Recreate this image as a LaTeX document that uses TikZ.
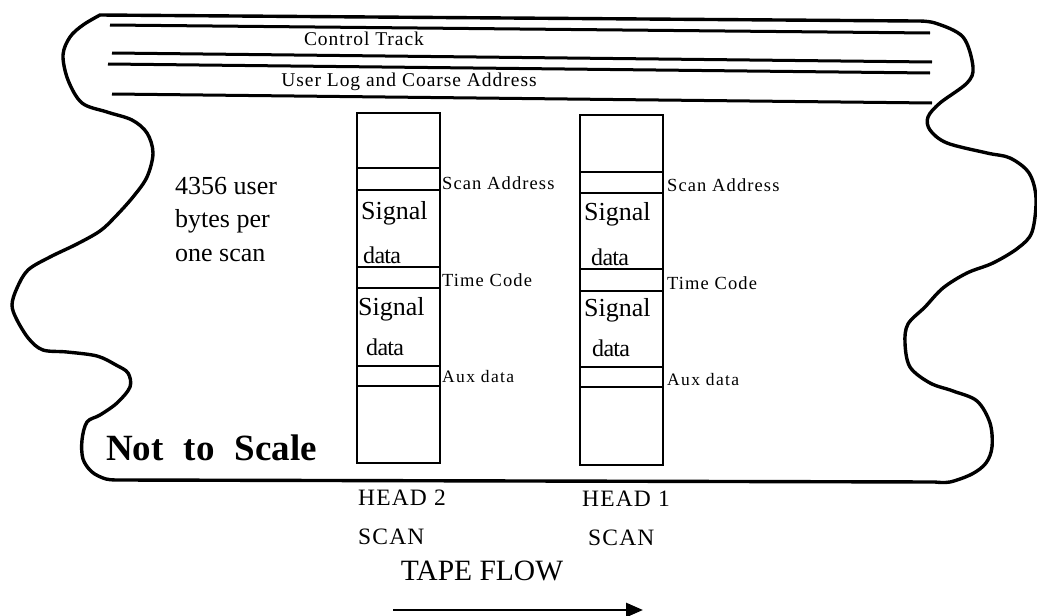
\documentclass[tikz,border=0pt]{standalone}
\usepackage{fontspec}
\setmainfont{Liberation Serif}
\usetikzlibrary{arrows.meta}
\begin{document}
\begin{tikzpicture}[x=1pt,y=-1pt,
  outline/.style={line width=3.4pt,line join=round,line cap=round},
  trackline/.style={line width=3pt},
  boxline/.style={line width=2.8pt},
  divline/.style={line width=2.6pt},
  tracktext/.style={inner sep=0pt,font=\fontsize{19.5}{22}\selectfont\addfontfeatures{LetterSpace=5}},
  cellnote/.style={anchor=west,inner sep=0pt,font=\fontsize{18.5}{22}\selectfont\addfontfeatures{LetterSpace=6}},
  auxnote/.style={anchor=west,inner sep=0pt,font=\fontsize{17.5}{22}\selectfont\addfontfeatures{LetterSpace=8}},
  sigtext/.style={anchor=west,inner sep=0pt,font=\fontsize{26}{30}\selectfont},
  datatext/.style={anchor=west,inner sep=0pt,font=\fontsize{24}{26}\selectfont\addfontfeatures{LetterSpace=-3}},
  headtext/.style={anchor=west,inner sep=0pt,font=\fontsize{23.5}{26}\selectfont\addfontfeatures{LetterSpace=5}},
]
\useasboundingbox (0,0) rectangle (1037,616);

% tape outline
\draw[outline] (100,15) -- (915,21)
  -- plot[smooth,tension=0.55] coordinates {(915,21) (935,23) (963,37) (973,67) (967,83) (940,103) (928,117) (930,130) (947,143) (987,153) (1010,158) (1029,173) (1036,198) (1032,232) (1018,248) (993,263) (967,273) (943,288) (925,307) (908,324) (905,343) (910,367) (930,383) (953,391) (977,401) (990,423) (992,447) (986,463) (972,474) (950,482) (935,482)}
  -- (120,480)
  -- plot[smooth,tension=0.55] coordinates {(120,480) (106,479) (92,472) (83,459) (82,440) (87,422) (100,415) (117,403) (130,387) (128,373) (116,365) (97,356) (67,352) (43,350) (29,339) (17,320) (12,305) (17,288) (28,270) (50,257) (77,244) (100,231) (115,217) (133,197) (147,177) (153,153) (147,133) (132,120) (107,112) (82,103) (68,80) (63,55) (70,37) (83,25) (100,15)}
  -- cycle;

% track lines
\draw[trackline] (110,25) coordinate (l1a) -- (930,33) coordinate (l1b);
\draw[trackline] (112,53) coordinate (l2a) -- (932,62) coordinate (l2b);
\draw[trackline] (108,64) coordinate (l3a) -- (930,73) coordinate (l3b);
\draw[trackline] (112,94) coordinate (l4a) -- (932,103) coordinate (l4b);
\node[tracktext] (ctrack) at (364,39) {Control Track};
\node[tracktext] (ulog) at (409,82) {User Log and Coarse Address};

% left scan (head 2)
\draw[boxline] (357,113) rectangle (440,463);
\foreach \yy in {168,190,267,288,366,386} \draw[divline] (357,\yy) -- (440,\yy);
% right scan (head 1)
\draw[boxline] (580,115) rectangle (663,465);
\foreach \yy in {172,193,269,291,367,387} \draw[divline] (580,\yy) -- (663,\yy);

% texts in boxes
\node[sigtext] (s2a) at (361,213) {Signal};
\node[datatext] (d2a) at (363,255) {data};
\node[sigtext] (s2b) at (358,309) {Signal};
\node[datatext] (d2b) at (366,347) {data};
\node[sigtext] (s1a) at (584,214) {Signal};
\node[datatext] (d1a) at (591,257) {data};
\node[sigtext] (s1b) at (584,310) {Signal};
\node[datatext] (d1b) at (592,348) {data};

% cell labels
\node[cellnote] (sa2) at (442,183) {Scan Address};
\node[cellnote] (tc2) at (442,280) {Time Code};
\node[auxnote] (ax2) at (442,377) {Aux data};
\node[cellnote] (sa1) at (667,185) {Scan Address};
\node[cellnote] (tc1) at (667,283) {Time Code};
\node[auxnote] (ax1) at (667,380) {Aux data};

% left note
\node[anchor=north west,inner sep=0pt,align=left,font=\fontsize{26}{33.5}\selectfont] (note) at (175,177) {4356 user\\bytes per\\one scan};

\node[anchor=west,inner sep=0pt,font=\fontsize{37}{40}\selectfont\bfseries] (nts) at (106,448) {Not\hspace{20pt}to\hspace{20pt}Scale};

% head labels
\node[headtext] (h2) at (358,498) {HEAD 2};
\node[headtext] (sc2) at (358,537) {SCAN};
\node[headtext] (h1) at (582,499) {HEAD 1};
\node[headtext] (sc1) at (588,538) {SCAN};
\node[inner sep=0pt,font=\fontsize{29.5}{32}\selectfont] (tf) at (482,571) {TAPE FLOW};

% arrow
\coordinate (fa) at (393,610);
\coordinate (fb) at (643,610);
\draw[line width=2.8pt,-{Triangle[length=17pt,width=14pt]}] (fa) -- (fb);
\end{tikzpicture}
\end{document}
